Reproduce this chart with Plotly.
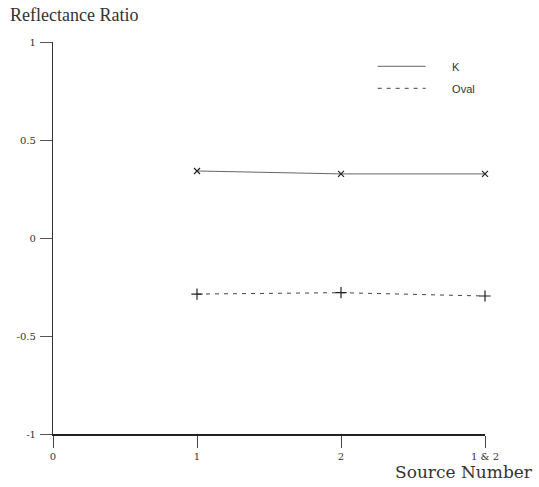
import plotly.graph_objects as go

x_pos = [1, 2, 3]
x_tick_vals = [0, 1, 2, 3]
x_tick_text = ["0", "1", "2", "1 & 2"]
y_tick_vals = [-1, -0.5, 0, 0.5, 1]
y_tick_text = ["-1", "-0.5", "0", "0.5", "1"]
k_vals = [0.342, 0.327, 0.327]
oval_vals = [-0.286, -0.279, -0.296]
series_names = ["K", "Oval"]

serif = "Liberation Serif"
tickfam = "DejaVu Serif"
pad = "\u00a0" * 7
fig = go.Figure()
fig.add_trace(go.Scatter(x=x_pos, y=k_vals, mode="lines", name=pad + series_names[0],
                         legendgroup="k",
                         line=dict(color="#666666", width=1)))
fig.add_trace(go.Scatter(x=x_pos, y=oval_vals, mode="lines", name=pad + series_names[1],
                         legendgroup="oval",
                         line=dict(color="#444444", width=1, dash="4px,5px")))
fig.add_trace(go.Scatter(x=x_pos, y=k_vals, mode="markers", showlegend=False,
                         legendgroup="k", cliponaxis=False,
                         marker=dict(symbol="x-thin", size=6, color="#222222",
                                     line=dict(width=1.2, color="#222222"))))
fig.add_trace(go.Scatter(x=x_pos, y=oval_vals, mode="markers", showlegend=False,
                         legendgroup="oval", cliponaxis=False,
                         marker=dict(symbol="cross-thin", size=8, color="#222222",
                                     line=dict(width=1.2, color="#222222"))))

fig.update_layout(
    width=539, height=487,
    margin=dict(l=53, r=54, t=42, b=53),
    plot_bgcolor="white", paper_bgcolor="white",
    font=dict(family=serif, color="#333333"),
    legend=dict(x=0.74, y=0.975, xanchor="left", yanchor="top",
                bgcolor="rgba(0,0,0,0)", font=dict(family="Liberation Sans", size=11, color="#333333"),
                itemwidth=48, tracegroupgap=3, traceorder="grouped"),
    xaxis=dict(range=[0, 3], tickvals=x_tick_vals, ticktext=x_tick_text,
               showgrid=False, zeroline=False, showline=True, linecolor="#222222",
               linewidth=1.5, ticks="outside", ticklen=12, tickcolor="#444444",
               tickfont=dict(size=10, family=tickfam, color="#333333")),
    yaxis=dict(range=[-1, 1], tickvals=y_tick_vals, ticktext=y_tick_text,
               showgrid=False, zeroline=False, showline=True, linecolor="#333333",
               linewidth=1.2, ticks="outside", ticklen=12, tickcolor="#555555",
               ticklabelstandoff=2,
               tickfont=dict(size=10, family=tickfam, color="#333333")),
    annotations=[
        dict(text="Reflectance Ratio", xref="paper", yref="paper", x=-0.104, y=1.069,
             xanchor="left", yanchor="middle", showarrow=False,
             font=dict(family=serif, size=18, color="#333333")),
        dict(text="Source Number", xref="paper", yref="paper", x=1.115, y=-0.097,
             xanchor="right", yanchor="middle", showarrow=False,
             font=dict(family="DejaVu Serif", size=17, color="#333333")),
    ],
)
fig.write_html("out.html")
